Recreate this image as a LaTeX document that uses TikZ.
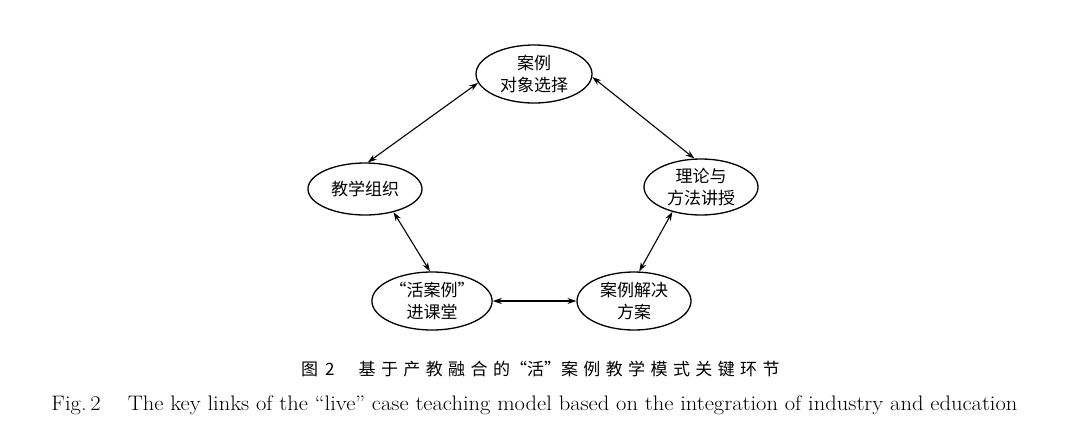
\documentclass[tikz,border=0pt]{standalone}
\usepackage{fontspec}
\newfontfamily\cjk{Noto Sans CJK SC}
\usetikzlibrary{arrows.meta,shapes.geometric}
\begin{document}
\begin{tikzpicture}[x=1pt,y=-1pt,
  el/.style={ellipse,draw=black,line width=1.3pt,inner sep=0pt,align=center,
    font=\cjk\fontsize{17}{22}\selectfont},
  link/.style={line width=1.1pt,{Stealth[length=9pt,width=6pt]}-{Stealth[length=9pt,width=6pt]}}]
\useasboundingbox[fill=white] (0,0) rectangle (1080,440);
\node[el,minimum width=116pt,minimum height=58pt] (top) at (534,74) {案例\\对象选择};
\node[el,minimum width=114pt,minimum height=52pt] (left) at (365,189) {教学组织};
\node[el,minimum width=114pt,minimum height=56pt] (right) at (701,187) {理论与\\方法讲授};
\node[el,minimum width=114pt,minimum height=58pt] (bl) at (432,301) {“活案例”\\进课堂};
\node[el,minimum width=114pt,minimum height=58pt] (br) at (634,301) {案例解决\\方案};
\draw[link] (top.189) -- (left.84);
\draw[link] (top.357) -- (right.103);
\draw[link] (left.321) -- (bl.94);
\draw[link] (right.221) -- (br.80);
\draw[link] (bl.east) -- (br.west);
\node[font=\cjk\fontsize{17}{19}\selectfont,inner sep=0pt,anchor=west] (capcn) at (301,369)
  {图\hspace{7pt}2\hspace{24pt}\makebox[421pt][s]{基 于 产 教 融 合 的“活”案 例 教 学 模 式 关 键 环 节}};
\node[inner sep=0pt] (capen) at (534.5,405)
  {\resizebox{966pt}{\height}{\fontsize{21}{23}\selectfont Fig.\,2\hspace{1.2em}The key links of the “live” case teaching model based on the integration of industry and education}};
\end{tikzpicture}
\end{document}
